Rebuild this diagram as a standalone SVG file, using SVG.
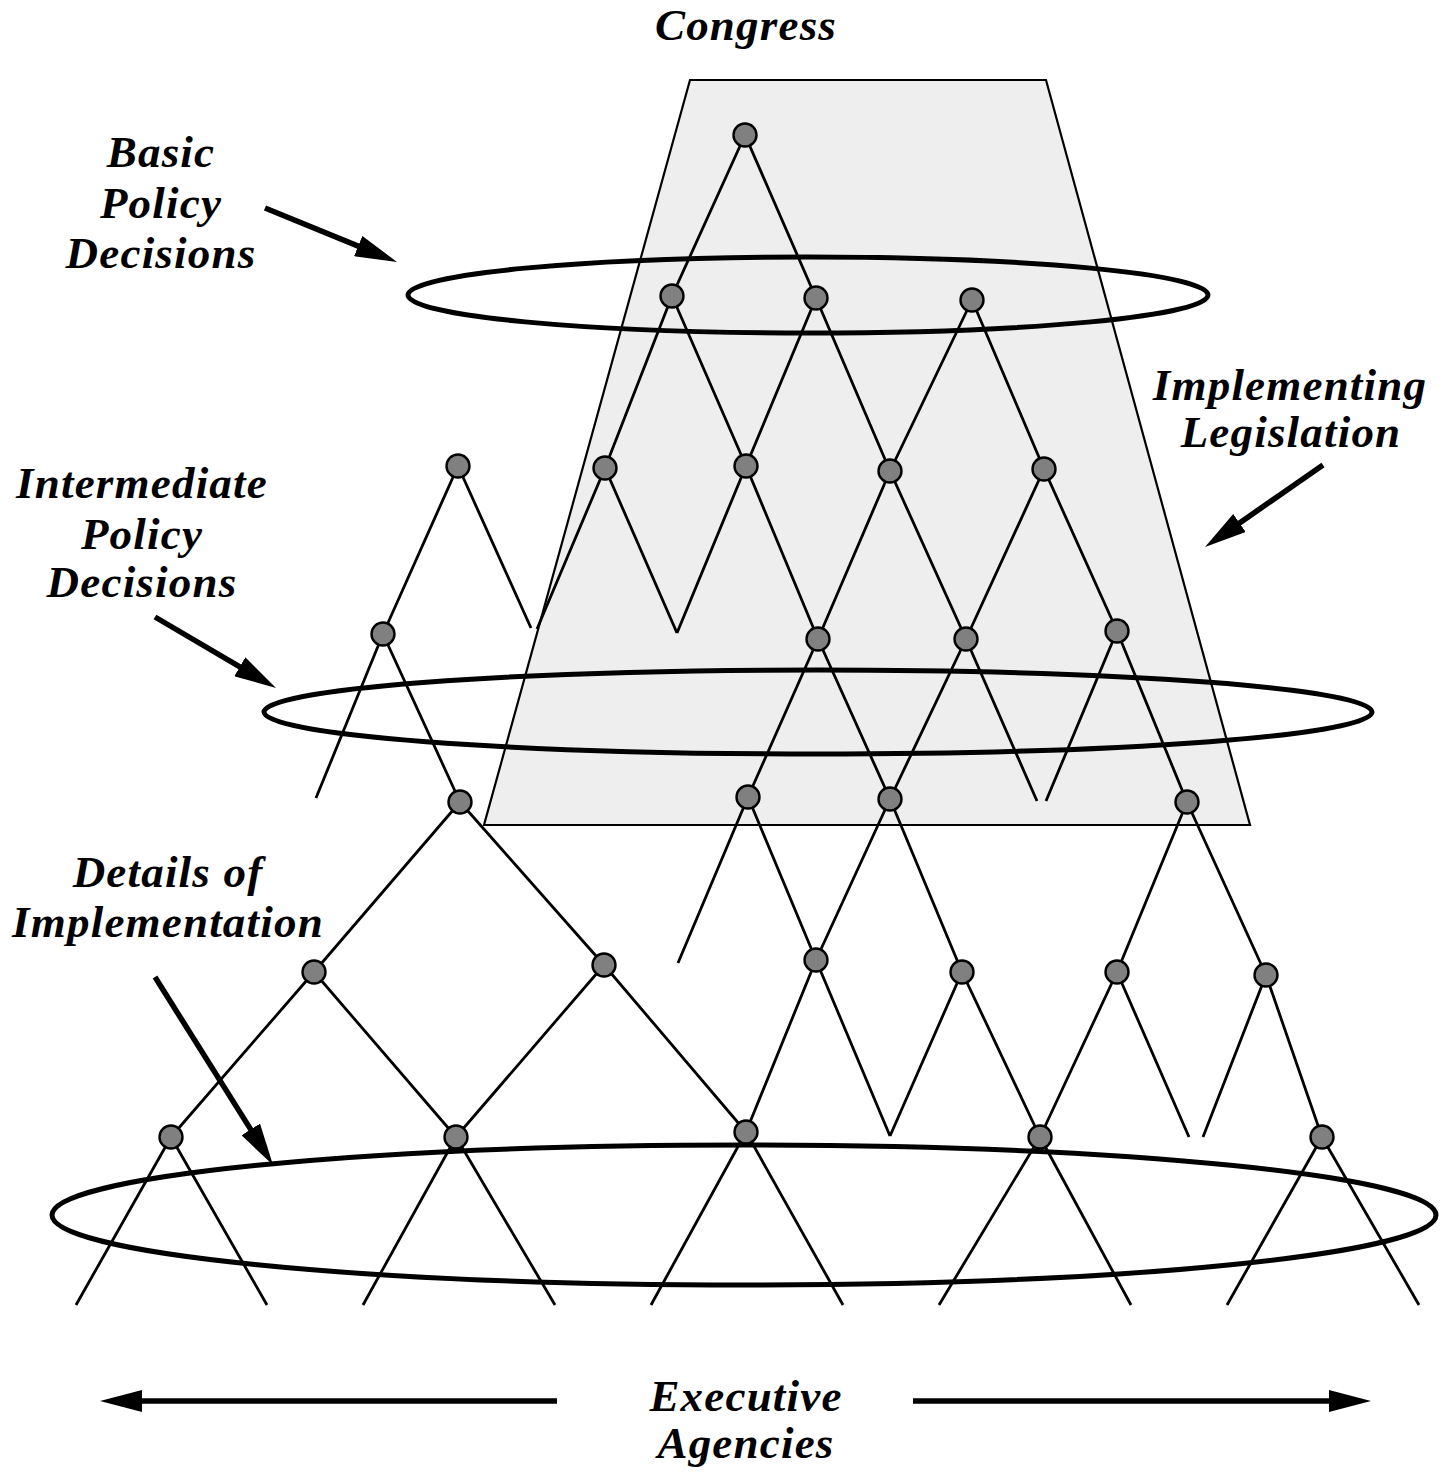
<svg xmlns="http://www.w3.org/2000/svg" width="1454" height="1472" viewBox="0 0 1454 1472">
  <style>
    .edge { stroke: #000; stroke-width: 2.8; fill: none; stroke-linecap: butt; }
    .node { fill: #808080; stroke: #000; stroke-width: 2.4; }
    .ring { fill: none; stroke: #000; stroke-width: 5; }
    .pointer { stroke: #000; stroke-width: 5.5; fill: none; marker-end: url(#head); }
    .label { font-family: "Liberation Serif", "Times New Roman", serif; font-weight: bold; font-style: italic; font-size: 45px; letter-spacing: 1.2px; text-anchor: middle; fill: #000; }
  </style>
  <defs>
    <marker id="head" viewBox="0 0 42 22" refX="10" refY="11" markerWidth="42" markerHeight="22" markerUnits="userSpaceOnUse" orient="auto">
      <path d="M0,0 L42,11 L0,22 Z" fill="#000"/>
    </marker>
  </defs>

  <rect width="1454" height="1472" fill="#fff"/>

  <!-- Congress region -->
  <polygon id="congress-area" points="690,80 1046,80 1250,825 484,825" fill="#eeeeee" stroke="#000" stroke-width="2.2"/>

  <!-- decision tree connectors -->
  <g id="connectors">
    <path class="edge" d="M745,135 L672,296 M745,135 L816,298"/>
    <path class="edge" d="M672,296 L605,468 M672,296 L746,466"/>
    <path class="edge" d="M816,298 L746,466 M816,298 L890,471"/>
    <path class="edge" d="M972,300 L890,471 M972,300 L1044,469"/>
    <path class="edge" d="M458,466 L383,634 M458,466 L531,628"/>
    <path class="edge" d="M605,468 L537,629 M605,468 L677,633"/>
    <path class="edge" d="M746,466 L677,633 M746,466 L818,639"/>
    <path class="edge" d="M890,471 L818,639 M890,471 L966,639"/>
    <path class="edge" d="M1044,469 L966,639 M1044,469 L1117,631"/>
    <path class="edge" d="M383,634 L316,798 M383,634 L460,802"/>
    <path class="edge" d="M818,639 L748,797 M818,639 L890,799"/>
    <path class="edge" d="M966,639 L890,799 M966,639 L1037,801"/>
    <path class="edge" d="M1117,631 L1046,801 M1117,631 L1187,802"/>
    <path class="edge" d="M460,802 L314,972 M460,802 L604,965"/>
    <path class="edge" d="M748,797 L678,963 M748,797 L816,960"/>
    <path class="edge" d="M890,799 L816,960 M890,799 L962,972"/>
    <path class="edge" d="M1187,802 L1117,972 M1187,802 L1266,975"/>
    <path class="edge" d="M314,972 L171,1137 M314,972 L456,1137"/>
    <path class="edge" d="M604,965 L456,1137 M604,965 L746,1132"/>
    <path class="edge" d="M816,960 L746,1132 M816,960 L890,1136"/>
    <path class="edge" d="M962,972 L890,1136 M962,972 L1040,1137"/>
    <path class="edge" d="M1117,972 L1040,1137 M1117,972 L1189,1137"/>
    <path class="edge" d="M1266,975 L1203,1137 M1266,975 L1322,1137"/>
    <path class="edge" d="M171,1137 L76,1305 M171,1137 L267,1305"/>
    <path class="edge" d="M456,1137 L363,1305 M456,1137 L555,1305"/>
    <path class="edge" d="M746,1132 L651,1305 M746,1132 L843,1305"/>
    <path class="edge" d="M1040,1137 L939,1305 M1040,1137 L1131,1305"/>
    <path class="edge" d="M1322,1137 L1227,1305 M1322,1137 L1419,1305"/>
  </g>

  <!-- decision levels -->
  <g id="levels">
    <ellipse id="level-basic" class="ring" cx="808" cy="295" rx="400" ry="38"/>
    <ellipse id="level-intermediate" class="ring" cx="818" cy="712" rx="554" ry="42"/>
    <ellipse id="level-details" class="ring" cx="744" cy="1215" rx="692" ry="70"/>
  </g>

  <!-- decision nodes -->
  <g id="nodes">
    <g id="n0"><circle class="node" cx="745" cy="135" r="11.5"/></g>
    <g id="n1a"><circle class="node" cx="672" cy="296" r="11.5"/></g>
    <g id="n1b"><circle class="node" cx="816" cy="298" r="11.5"/></g>
    <g id="n1c"><circle class="node" cx="972" cy="300" r="11.5"/></g>
    <g id="n2a"><circle class="node" cx="458" cy="466" r="11.5"/></g>
    <g id="n2b"><circle class="node" cx="605" cy="468" r="11.5"/></g>
    <g id="n2c"><circle class="node" cx="746" cy="466" r="11.5"/></g>
    <g id="n2d"><circle class="node" cx="890" cy="471" r="11.5"/></g>
    <g id="n2e"><circle class="node" cx="1044" cy="469" r="11.5"/></g>
    <g id="n3a"><circle class="node" cx="383" cy="634" r="11.5"/></g>
    <g id="n3b"><circle class="node" cx="818" cy="639" r="11.5"/></g>
    <g id="n3c"><circle class="node" cx="966" cy="639" r="11.5"/></g>
    <g id="n3d"><circle class="node" cx="1117" cy="631" r="11.5"/></g>
    <g id="n4a"><circle class="node" cx="460" cy="802" r="11.5"/></g>
    <g id="n4b"><circle class="node" cx="748" cy="797" r="11.5"/></g>
    <g id="n4c"><circle class="node" cx="890" cy="799" r="11.5"/></g>
    <g id="n4d"><circle class="node" cx="1187" cy="802" r="11.5"/></g>
    <g id="n5a"><circle class="node" cx="314" cy="972" r="11.5"/></g>
    <g id="n5b"><circle class="node" cx="604" cy="965" r="11.5"/></g>
    <g id="n5c"><circle class="node" cx="816" cy="960" r="11.5"/></g>
    <g id="n5d"><circle class="node" cx="962" cy="972" r="11.5"/></g>
    <g id="n5e"><circle class="node" cx="1117" cy="972" r="11.5"/></g>
    <g id="n5f"><circle class="node" cx="1266" cy="975" r="11.5"/></g>
    <g id="n6a"><circle class="node" cx="171" cy="1137" r="11.5"/></g>
    <g id="n6b"><circle class="node" cx="456" cy="1137" r="11.5"/></g>
    <g id="n6c"><circle class="node" cx="746" cy="1132" r="11.5"/></g>
    <g id="n6d"><circle class="node" cx="1040" cy="1137" r="11.5"/></g>
    <g id="n6e"><circle class="node" cx="1322" cy="1137" r="11.5"/></g>
  </g>

  <!-- label pointers -->
  <g id="pointers">
    <line class="pointer" x1="265" y1="208" x2="367.4" y2="249.9"/>
    <line class="pointer" x1="1323" y1="465" x2="1231.3" y2="528.7"/>
    <line class="pointer" x1="155" y1="617" x2="248.4" y2="671.8"/>
    <line class="pointer" x1="155" y1="977" x2="256" y2="1137.9"/>
    <line class="pointer" x1="557" y1="1401" x2="132" y2="1401"/>
    <line class="pointer" x1="913" y1="1401" x2="1339" y2="1401"/>
  </g>

  <!-- labels -->
  <g id="labels">
    <text class="label" x="746" y="40">Congress</text>
    <text class="label" x="161" y="167">Basic</text>
    <text class="label" x="161" y="218">Policy</text>
    <text class="label" x="161" y="268">Decisions</text>
    <text class="label" x="1290" y="400">Implementing</text>
    <text class="label" x="1291" y="447">Legislation</text>
    <text class="label" x="142" y="498">Intermediate</text>
    <text class="label" x="142" y="549">Policy</text>
    <text class="label" x="142" y="597">Decisions</text>
    <text class="label" x="168" y="887">Details of</text>
    <text class="label" x="168" y="937">Implementation</text>
    <text class="label" x="746" y="1411">Executive</text>
    <text class="label" x="746" y="1458">Agencies</text>
  </g>
</svg>
